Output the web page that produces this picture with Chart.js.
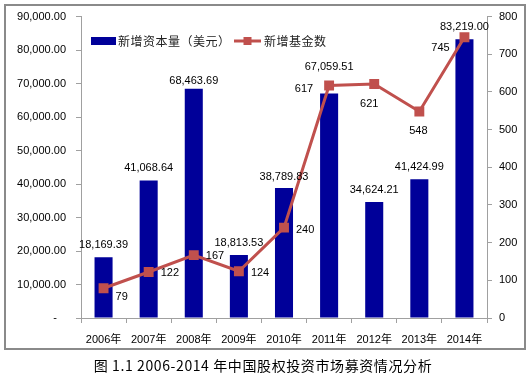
<!DOCTYPE html>
<html>
<head>
<meta charset="utf-8">
<script src="https://cdn.jsdelivr.net/npm/chart.js@4/dist/chart.umd.min.js"></script>
<style>
html,body{margin:0;padding:0;background:#fff;}
#wrap{width:530px;height:382px;position:relative;}
</style>
</head>
<body>
<div id="wrap"><canvas id="c" width="530" height="382"></canvas></div>
<script>
const categories = ['2006年','2007年','2008年','2009年','2010年','2011年','2012年','2013年','2014年'];
const capitalValues = [18169.39, 41068.64, 68463.69, 18813.53, 38789.83, 67059.51, 34624.21, 41424.99, 83219.00];
const fundCounts = [79, 122, 167, 124, 240, 617, 621, 548, 745];
const capitalLabel = '新增资本量（美元）';
const fundLabel = '新增基金数';
const titleText = '图 1.1 2006-2014 年中国股权投资市场募资情况分析';

// label placement styles (not data)
const barLabelDy = [-12, -12, -8, -12, -11, -26, -12, -12, -12];
const lineLabelStyle = [
  {dx: 12, dy: 9, align: 'left'},
  {dx: 12, dy: 1, align: 'left'},
  {dx: 12, dy: 1, align: 'left'},
  {dx: 12, dy: 2, align: 'left'},
  {dx: 12, dy: 2, align: 'left'},
  {dx: -16, dy: 3, align: 'right'},
  {dx: -5, dy: 20, align: 'center'},
  {dx: -1, dy: 19, align: 'center'},
  {dx: -24, dy: 11, align: 'center'}
];

const BAR = '#000099';
const RED = '#C0504D';
const AXIS = '#a0a0a0';
const LATIN = '11px "Liberation Sans", "Noto Sans CJK SC", sans-serif';
const CJK = '12px "Noto Sans CJK SC", sans-serif';

function fmt(v){
  if (v === 0) return '-   ';
  return v.toLocaleString('en-US', {minimumFractionDigits: 2, maximumFractionDigits: 2});
}

const decor = {
  id: 'decor',
  afterDatasetsDraw(chart) {
    const ctx = chart.ctx;
    ctx.save();
    const barMeta = chart.getDatasetMeta(0);
    ctx.font = LATIN;
    ctx.fillStyle = '#000';
    ctx.textBaseline = 'middle';
    ctx.textAlign = 'center';
    barMeta.data.forEach((el, i) => {
      ctx.fillText(fmt(capitalValues[i]), el.x, el.y + barLabelDy[i]);
    });
    const lineMeta = chart.getDatasetMeta(1);
    lineMeta.data.forEach((el, i) => {
      const s = lineLabelStyle[i];
      ctx.textAlign = s.align;
      ctx.fillText(String(fundCounts[i]), el.x + s.dx, el.y + s.dy);
    });
    ctx.restore();
  },
  afterDraw(chart) {
    const ctx = chart.ctx;
    ctx.save();
    // legend
    ctx.fillStyle = BAR;
    ctx.fillRect(91, 37, 25, 8);
    ctx.font = CJK;
    ctx.fillStyle = '#222';
    ctx.textBaseline = 'middle';
    ctx.textAlign = 'left';
    ctx.letterSpacing = '0.5px';
    ctx.fillText(capitalLabel, 118, 41.5);
    ctx.strokeStyle = RED;
    ctx.lineWidth = 3;
    ctx.beginPath();
    ctx.moveTo(234, 41);
    ctx.lineTo(261, 41);
    ctx.stroke();
    ctx.fillStyle = RED;
    ctx.fillRect(243.5, 37, 8, 8);
    ctx.fillStyle = '#222';
    ctx.fillText(fundLabel, 264, 41.5);
    // border
    ctx.strokeStyle = '#8a8a8a';
    ctx.lineWidth = 2;
    ctx.strokeRect(5, 5, 520, 344);
    // title
    ctx.fillStyle = '#000';
    ctx.font = '14px "Noto Sans CJK SC", sans-serif';
    ctx.letterSpacing = '0.6px';
    ctx.textAlign = 'center';
    ctx.fillText(titleText, 263, 366);
    ctx.restore();
  }
};

new Chart(document.getElementById('c'), {
  type: 'bar',
  data: {
    labels: categories,
    datasets: [
      {
        type: 'bar',
        label: capitalLabel,
        data: capitalValues,
        backgroundColor: BAR,
        yAxisID: 'y',
        categoryPercentage: 0.8,
        barPercentage: 0.5,
        order: 2
      },
      {
        type: 'line',
        label: fundLabel,
        data: fundCounts,
        borderColor: RED,
        backgroundColor: RED,
        borderWidth: 3,
        pointStyle: 'rect',
        pointRadius: 7,
        pointHoverRadius: 7,
        pointBorderWidth: 0,
        tension: 0,
        yAxisID: 'y1',
        order: 1
      }
    ]
  },
  plugins: [decor],
  options: {
    responsive: false,
    animation: false,
    events: [],
    layout: {padding: {top: 16, bottom: 34, left: 0, right: 0}},
    plugins: {legend: {display: false}, tooltip: {enabled: false}, title: {display: false}},
    scales: {
      x: {
        offset: true,
        grid: {offset: true, drawOnChartArea: false, tickLength: 5, color: AXIS},
        border: {color: AXIS, width: 1},
        ticks: {font: {family: '"Liberation Sans", "Noto Sans CJK SC", sans-serif', size: 11}, color: '#000', padding: 10, maxRotation: 0},
        afterFit(s) { s.height = 30; }
      },
      y: {
        position: 'left',
        min: 0, max: 90000,
        grid: {drawOnChartArea: false, tickLength: 5, color: AXIS},
        border: {color: AXIS, width: 1},
        ticks: {stepSize: 10000, font: {family: '"Liberation Sans", sans-serif', size: 11}, color: '#000', padding: 10, callback: (v) => fmt(v)},
        afterFit(s) { s.width = 81; }
      },
      y1: {
        position: 'right',
        min: 0, max: 800,
        grid: {drawOnChartArea: false, tickLength: 5, color: AXIS},
        border: {color: AXIS, width: 1},
        ticks: {stepSize: 100, font: {family: '"Liberation Sans", sans-serif', size: 11}, color: '#000', padding: 7},
        afterFit(s) { s.width = 43; }
      }
    }
  }
});
</script>
</body>
</html>
